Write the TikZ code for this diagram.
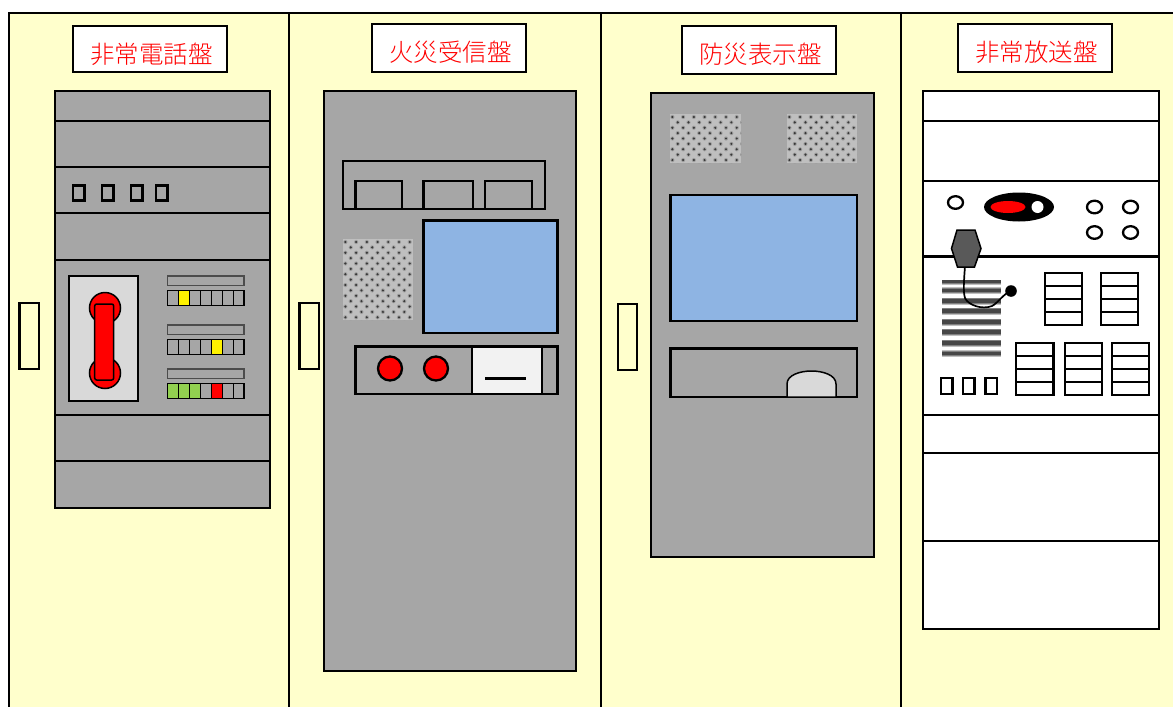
\documentclass[tikz,border=0pt]{standalone}
\usepackage{fontspec}
\newfontfamily\jpfont{Noto Sans CJK JP Light}
\definecolor{cabinet}{HTML}{FFFFCC}
\definecolor{steel}{HTML}{A6A6A6}
\definecolor{mesh}{HTML}{BFBFBF}
\definecolor{lcd}{HTML}{8EB4E3}
\definecolor{pale}{HTML}{D9D9D9}
\definecolor{leaf}{HTML}{92D050}
\tikzset{
  heavy/.style={draw=black,line width=2.9pt},
  medium/.style={draw=black,line width=2.3pt},
  fine/.style={draw=black,line width=1.5pt},
  titlebox/.style={draw=black,line width=2.9pt,fill=white,minimum width=154pt,inner sep=0pt},
  titletext/.style={text=red,inner sep=0pt,font=\jpfont\fontsize{24.5}{25}\selectfont},
}
% perforated speaker mesh: staggered rows of soft dots
\newcommand{\meshpanel}[4]{%
  \begin{scope}
    \clip (#1,#2) rectangle (#3,#4);
    \fill[mesh] (#1,#2) rectangle (#3,#4);
    \pgfmathtruncatemacro{\nrows}{(#4-#2)/5.4+1}
    \foreach \r in {0,...,\nrows}{
      \pgfmathsetmacro{\yy}{#2+3+\r*5.38}
      \pgfmathsetmacro{\xs}{#1+2.4+mod(\r,2)*5.35}
      \foreach \c in {0,...,7}{
        \pgfmathsetmacro{\xx}{\xs+\c*10.72}
        \fill[black!38] (\xx,\yy) circle[radius=2.1pt];
        \fill[black!78] (\xx,\yy) circle[radius=1.2pt];
      }
    }
  \end{scope}}
% door handle
\newcommand{\doorpull}[4]{\draw[heavy,fill=cabinet] (#1,#2) rectangle (#3,#4);}
% row of seven indicator cells, cell width 11
\newcommand{\lamprow}[2]{%
  \draw[fine,draw=black!70,fill=steel] (167.5,#1) rectangle (244,#1+9.5);
  \fill[steel] (167.5,#1+14.5) rectangle (244,#1+29.5);
  \foreach \i/\c in {#2}{
    \fill[\c] (167.5+11*\i-11,#1+14.5) rectangle (167.5+11*\i,#1+29.5);
  }
  \foreach \i in {1,...,6}{
    \draw[fine] (167.5+11*\i,#1+14.5) -- (167.5+11*\i,#1+29.5);
  }
  \draw[fine] (167.5,#1+14.5) rectangle (244,#1+29.5);}
% stack of four switches
\newcommand{\switchstack}[3]{%
  \draw[medium,fill=white] (#1,#3) rectangle (#2,#3+52);
  \foreach \k in {13,26,39}{\draw[medium] (#1,#3+\k) -- (#2,#3+\k);}}
\begin{document}
\begin{tikzpicture}[x=1pt,y=-1pt]
\useasboundingbox (0,0) rectangle (1173,707);
\clip (0,0) rectangle (1173,707);
\fill[white] (0,0) rectangle (1173,707);

% cabinet bays
\fill[cabinet] (9,13) rectangle (1173,707);
\draw[heavy] (9,710) -- (9,13) -- (1176,13);
\foreach \x in {289,601,901}{\draw[heavy] (\x,13) -- (\x,710);}
\doorpull{19.5}{303}{39}{369}
\doorpull{299.5}{303}{319}{369}
\doorpull{618}{304}{637}{370}

% titles
\node[titlebox,minimum height=46pt] (t1) at (150,49) {};
\node[titletext] (l1) at (151.5,54) {非常電話盤};
\node[titlebox,minimum height=48pt] (t2) at (449,48) {};
\node[titletext] (l2) at (450.5,52) {火災受信盤};
\node[titlebox,minimum height=48pt] (t3) at (759,50) {};
\node[titletext] (l3) at (760.5,54) {防災表示盤};
\node[titlebox,minimum height=48pt] (t4) at (1035,48) {};
\node[titletext] (l4) at (1036.5,52) {非常放送盤};

% emergency telephone panel
\draw[heavy,fill=steel] (55,91) rectangle (270,508);
\foreach \y in {121,167,213,260,415,461}{\draw[heavy] (55,\y) -- (270,\y);}
\foreach \x in {73,102,131,156}{\draw[medium] (\x,185.5) rectangle (\x+11.5,200.5);}
\draw[heavy,fill=pale] (69,276) rectangle (138,401);
\draw[fine,fill=red] (105,308) circle[radius=15.5pt];
\draw[fine,fill=red] (105,373) circle[radius=15.5pt];
\draw[fine,fill=red,rounded corners=2pt] (94.7,304) rectangle (113.7,380);
\lamprow{276}{2/yellow}
\lamprow{325}{5/yellow}
\lamprow{369}{1/leaf,2/leaf,3/leaf,5/red}

% fire alarm receiver panel
\draw[heavy,fill=steel] (324,91) rectangle (576,671);
\draw[heavy] (343,161) rectangle (545,209);
\draw[heavy] (355.5,181) rectangle (402,209);
\draw[heavy] (423.5,181) rectangle (473,209);
\draw[heavy] (485,181) rectangle (532,209);
\meshpanel{343}{239}{413}{320}
\draw[heavy,fill=lcd] (423.5,220.5) rectangle (557.5,333);
\draw[heavy] (355.5,346.5) rectangle (557.5,394);
\draw[heavy,fill=white!95!black] (472,346.5) rectangle (542,394);
\draw[medium,fill=red] (390,368.5) circle[radius=12pt];
\draw[medium,fill=red] (436,368.5) circle[radius=12pt];
\draw[black,line width=2.8pt] (485,378.5) -- (526,378.5);

% disaster-prevention display panel
\draw[heavy,fill=steel] (651,93) rectangle (874,557);
\meshpanel{670}{114}{741}{163}
\meshpanel{787}{114}{857}{163}
\draw[heavy,fill=lcd] (670.5,195) rectangle (857,321);
\draw[heavy] (670.5,348.5) rectangle (857,397);
\draw[fine,fill=pale] (787,397) -- (787,384)
  .. controls (787,375) and (800,371) .. (811.5,371)
  .. controls (823,371) and (836,375) .. (836,384) -- (836,397) -- cycle;

% emergency broadcast panel
\draw[heavy,fill=white] (923,91) rectangle (1159,629);
\foreach \y in {121,181,256.5,415,453,541}{\draw[heavy] (923,\y) -- (1159,\y);}
\draw[medium] (955.5,202.5) ellipse[x radius=7.5pt,y radius=6.3pt];
\fill[black] (1019,207) ellipse[x radius=35pt,y radius=14.5pt];
\fill[red] (1008,207) ellipse[x radius=17.5pt,y radius=6pt];
\fill[white] (1037.5,207) circle[radius=6pt];
\foreach \x in {1094.5,1130.5}{\foreach \y in {207,232.5}{
  \draw[medium] (\x,\y) ellipse[x radius=7.5pt,y radius=6.3pt];}}
% speaker slots
\foreach \y in {281,290.5,301,311,322,332,343,353.5}{
  \fill[black!25] (942,\y-3.5) rectangle (1001,\y+3.5);
  \fill[black!50] (942,\y-2.6) rectangle (1001,\y+2.6);
  \fill[black!72] (942,\y-1.6) rectangle (1001,\y+1.6);
}
\fill[white] (942,276) rectangle (1001,280);
\fill[white] (942,357) rectangle (1001,361);
% microphone with its cord
\draw[medium,line width=1.7pt] (965,266) .. controls (964,280) and (963,292) .. (965,298)
  .. controls (968,305) and (982,310) .. (992,306)
  .. controls (998,303) and (1003,294) .. (1011,291);
\fill[black] (1011,291) circle[radius=5.8pt];
\draw[fine,fill=black!65] (957,230) -- (975,230) -- (981,248.5) -- (974.5,267) -- (957.5,267) -- (951.5,248.5) -- cycle;
\switchstack{1045}{1082}{273}
\switchstack{1101}{1138}{273}
\switchstack{1016}{1053.5}{343}
\switchstack{1065}{1102}{343}
\switchstack{1112}{1149}{343}
\foreach \x in {941,963,985.5}{\draw[medium] (\x,378) rectangle (\x+11.5,394);}
\end{tikzpicture}
\end{document}
